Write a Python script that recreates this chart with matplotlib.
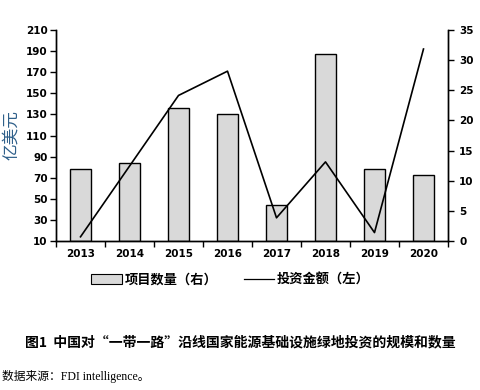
import matplotlib.pyplot as plt
import numpy as np
from matplotlib.patches import Patch
from matplotlib.lines import Line2D

plt.rcParams['font.family'] = ['DejaVu Sans', 'Noto Sans CJK SC']

years = ['2013', '2014', '2015', '2016', '2017', '2018', '2019', '2020']
projects = [12, 13, 22, 21, 6, 31, 12, 11]            # 项目数量 (右轴)
investment = [14, 81, 148, 171, 32, 85, 18, 192]      # 投资金额 (左轴, 亿美元)

fig = plt.figure(figsize=(4.8, 3.9), dpi=100)
ax = fig.add_axes([0.1167, 0.382, 0.8166, 0.541])
ax2 = ax.twinx()

x = np.arange(len(years))
ax2.bar(x, projects, width=0.42, color='#d9d9d9', edgecolor='black', linewidth=1.0)
ax.plot(x, investment, color='black', linewidth=1.2)

# line above the bars
ax.set_zorder(ax2.get_zorder() + 1)
ax.patch.set_visible(False)

ax.set_xlim(-0.5, len(years) - 0.5)
ax.set_ylim(10, 210)
ax.set_yticks(np.arange(10, 211, 20))
ax2.set_ylim(0, 35)
ax2.set_yticks(np.arange(0, 36, 5))

ax.set_xticks(x)
ax.set_xticklabels(years, fontsize=7.5, fontweight='bold')
ax.set_xticks(np.arange(-0.5, len(years)), minor=True)
ax.tick_params(axis='x', which='major', length=0, pad=6)
ax.tick_params(axis='x', which='minor', length=4, width=1, direction='out')
ax.tick_params(axis='y', length=4, width=1, labelsize=7.5, pad=2)
ax2.tick_params(axis='y', length=4, width=1, labelsize=7.5, pad=4)
for lbl in ax.get_yticklabels() + ax2.get_yticklabels():
    lbl.set_fontweight('bold')

for a in (ax, ax2):
    a.spines['top'].set_visible(False)
    for s in ('left', 'right', 'bottom'):
        a.spines[s].set_linewidth(1.0)

ax.set_ylabel('亿美元', fontsize=12, color='#2e5f8a', family=['Noto Sans CJK SC'], labelpad=4)

handles = [Patch(facecolor='#d9d9d9', edgecolor='black', linewidth=0.8),
           Line2D([0], [0], color='black', linewidth=0.9)]
fig.legend(handles, ['项目数量（右）', '投资金额（左）'], loc='center', bbox_to_anchor=(0.48, 0.283),
           ncol=2, frameon=False, prop={'family': 'Noto Sans CJK SC', 'size': 9.5, 'weight': 'bold'},
           handlelength=2.3, handleheight=0.7, handletextpad=0.2, columnspacing=2.0)

fig.text(0.052, 0.121, '图1  中国对“一带一路”沿线国家能源基础设施绿地投资的规模和数量',
         fontsize=10, fontweight='bold', family=['Noto Sans CJK SC'], va='center')
fig.text(0.005, 0.034, '数据来源：FDI intelligence。', fontsize=8.5,
         family=['Liberation Serif', 'Noto Sans CJK SC'], va='center')

fig.savefig('out.png', dpi=100)
